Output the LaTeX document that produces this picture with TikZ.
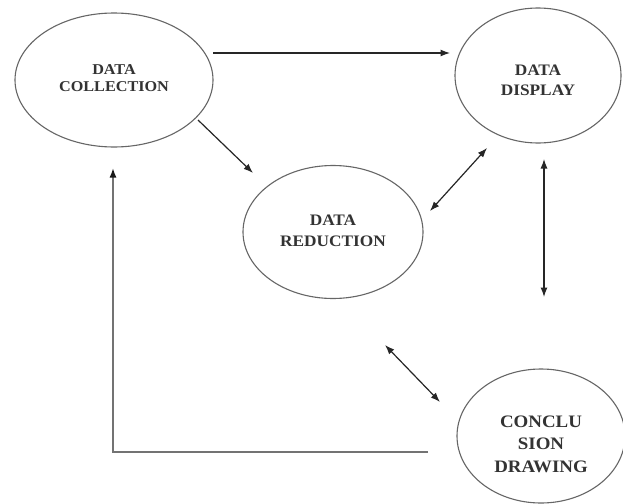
\documentclass[tikz,border=0pt]{standalone}
\usepackage{fontspec}
\usepackage{graphicx}
\setmainfont{Liberation Serif}
\usetikzlibrary{shapes.geometric,arrows.meta}
\newcommand{\lbl}[3]{\fontsize{#1}{#2}\selectfont\bfseries\scalebox{1.08}[1]{\begin{tabular}{@{}c@{}}#3\end{tabular}}}
\begin{document}
\begin{tikzpicture}[x=1pt,y=-1pt,
  ell/.style={ellipse, draw=black!60, line width=1.1pt, inner sep=0pt, text=black!80},
  tip/.style={Latex[length=9.5pt,width=7pt,color=black!90]},
  arr/.style={draw=black!85, line width=1.2pt, -{Latex[length=9.5pt,width=7pt]}},
  darr/.style={draw=black!85, line width=1.2pt, {Latex[length=9.5pt,width=7pt]}-{Latex[length=9.5pt,width=7pt]}},
  fb/.style={draw=black!55, line width=1.6pt, -{Latex[length=9.5pt,width=7pt,color=black!90]}}]
\useasboundingbox[fill=white] (0,0) rectangle (623,503);
% nodes
\node[ell, minimum width=198pt, minimum height=134pt] (dc) at (114,80) {\lbl{15}{17}{DATA\\COLLECTION}};
\node[ell, minimum width=166pt, minimum height=135pt] (dd) at (538,75.5) {\raisebox{-6pt}[\height][\depth]{\lbl{16}{20}{DATA\\DISPLAY}}};
\node[ell, minimum width=180pt, minimum height=133pt] (dr) at (333,232) {\lbl{16}{21}{DATA\\REDUCTION}};
\node[ell, minimum width=168pt, minimum height=134pt] (cd) at (541,436) {\raisebox{-9pt}[\height][\depth]{\lbl{17.5}{22.5}{CONCLU\\SION\\DRAWING}}};
% connector end points
\coordinate (c1s) at (213,53);
\coordinate (c1e) at (450,53);
\coordinate (c2s) at (198,120);
\coordinate (c2e) at (253,173);
\coordinate (c3s) at (430,211);
\coordinate (c3e) at (487,148);
\coordinate (c4s) at (544,159);
\coordinate (c4e) at (544,297);
\coordinate (c5s) at (385,345);
\coordinate (c5e) at (440,402);
\coordinate (c6s) at (428,452);
\coordinate (c6k) at (113,452);
\coordinate (c6e) at (113,168);
% connectors
\draw[arr] (c1s) -- (c1e);
\draw[arr] (c2s) -- (c2e);
\draw[darr] (c3s) -- (c3e);
\draw[darr] (c4s) -- (c4e);
\draw[darr] (c5s) -- (c5e);
\draw[fb] (c6s) -- (c6k) -- (c6e);
\end{tikzpicture}
\end{document}
